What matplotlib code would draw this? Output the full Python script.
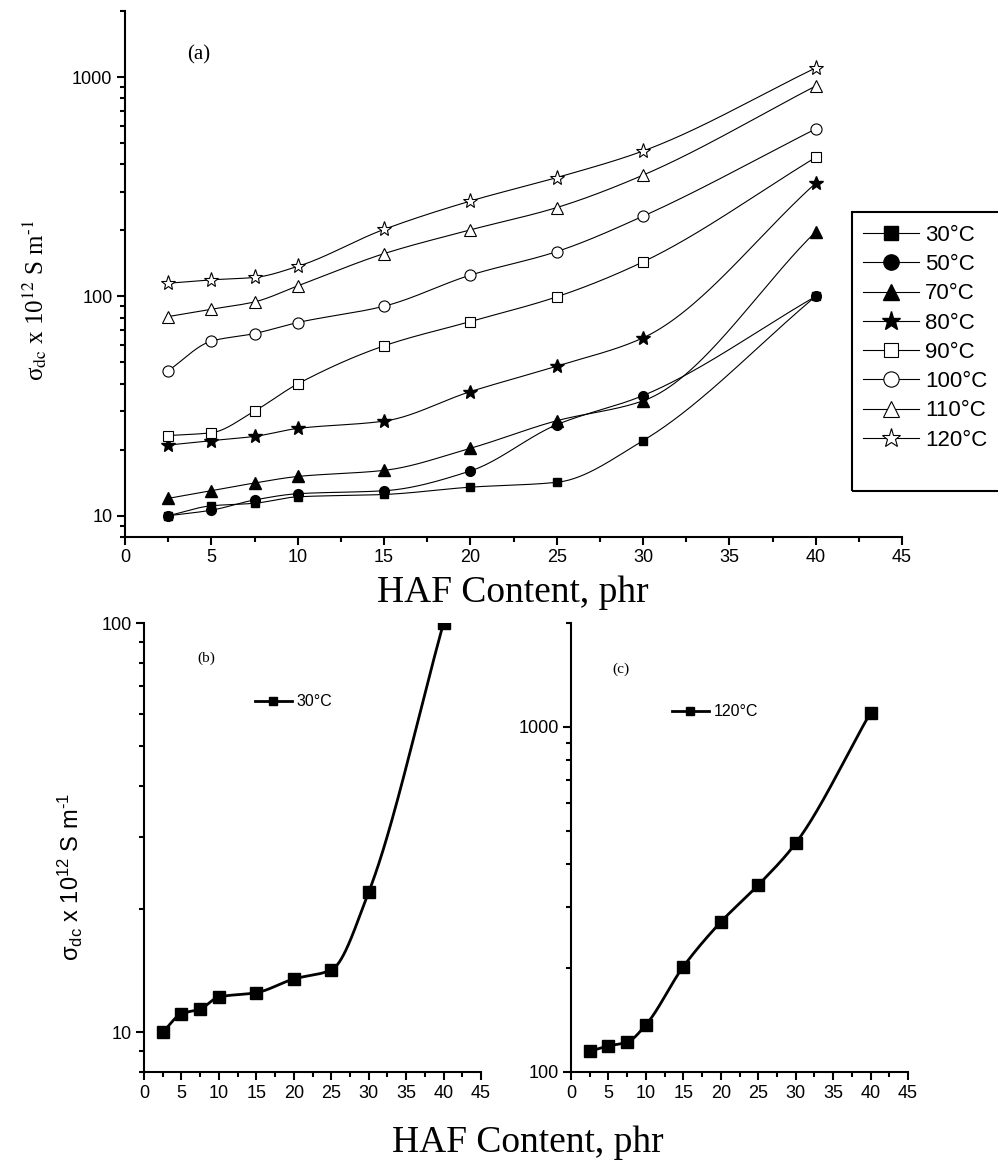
import numpy as np
import matplotlib
matplotlib.use("Agg")
import matplotlib.pyplot as plt
from matplotlib.lines import Line2D
from matplotlib.patches import Rectangle
from matplotlib.ticker import LogLocator, NullFormatter, MultipleLocator

# ---------------- data ----------------
haf = [2.5, 5, 7.5, 10, 15, 20, 25, 30, 40]
temps = ["30°C", "50°C", "70°C", "80°C", "90°C", "100°C", "110°C", "120°C"]
s30 = [10.0, 11.1, 11.4, 12.2, 12.5, 13.5, 14.2, 22.0, 100]
s50 = [10.0, 10.6, 11.8, 12.6, 13.0, 16.0, 26.0, 35.3, 100]
s70 = [12.0, 13.0, 14.1, 15.1, 16.1, 20.3, 27.1, 33.4, 197]
s80 = [21.0, 22.0, 23.0, 25.0, 27.0, 36.8, 48.1, 64.7, 328]
s90 = [23.2, 23.9, 30.0, 39.9, 59.5, 76.8, 99.5, 143.6, 430]
s100 = [45.8, 62.5, 67.7, 76.0, 90.2, 125, 160, 232, 580]
s110 = [80.9, 87.4, 94.4, 111.6, 156.6, 201, 254, 357, 910]
s120 = [114.8, 119, 122, 137, 202, 272, 348, 460, 1100]
series = [s30, s50, s70, s80, s90, s100, s110, s120]

# ---------------- fonts ----------------
plt.rcParams["font.family"] = ["Liberation Sans", "DejaVu Sans"]
plt.rcParams["mathtext.fontset"] = "custom"
plt.rcParams["mathtext.rm"] = "Liberation Sans"
plt.rcParams["mathtext.it"] = "Liberation Sans:italic"
SERIF = ["Liberation Serif", "DejaVu Serif"]


def pchip(x, y, xn):
    x = np.asarray(x, float)
    y = np.asarray(y, float)
    h = np.diff(x)
    d = np.diff(y) / h
    n = len(x)
    m = np.zeros(n)
    for k in range(1, n - 1):
        if d[k - 1] * d[k] <= 0:
            m[k] = 0.0
        else:
            w1 = 2 * h[k] + h[k - 1]
            w2 = h[k] + 2 * h[k - 1]
            m[k] = (w1 + w2) / (w1 / d[k - 1] + w2 / d[k])
    m[0] = d[0]
    m[-1] = d[-1]
    idx = np.clip(np.searchsorted(x, xn) - 1, 0, n - 2)
    t = (xn - x[idx]) / h[idx]
    h00 = 2 * t**3 - 3 * t**2 + 1
    h10 = t**3 - 2 * t**2 + t
    h01 = -2 * t**3 + 3 * t**2
    h11 = t**3 - t**2
    return h00 * y[idx] + h10 * h[idx] * m[idx] + h01 * y[idx + 1] + h11 * h[idx] * m[idx + 1]


def smooth(x, y):
    xn = np.linspace(x[0], x[-1], 400)
    yn = 10 ** pchip(x, np.log10(y), xn)
    return xn, yn


W, H = 998, 1160
fig = plt.figure(figsize=(W / 100, H / 100), dpi=100)


def fx(px):
    return px / W


def fy(py):
    return 1 - py / H


def style_axes(ax, ymin, ymax, lw=1.5):
    ax.set_yscale("log")
    ax.set_xlim(0, 45)
    ax.set_ylim(ymin, ymax)
    for s in ("top", "right"):
        ax.spines[s].set_visible(False)
    for s in ("left", "bottom"):
        ax.spines[s].set_linewidth(lw)
    ax.xaxis.set_major_locator(MultipleLocator(5))
    ax.xaxis.set_minor_locator(MultipleLocator(2.5))
    ax.yaxis.set_major_locator(LogLocator(base=10, numticks=10))
    ax.yaxis.set_minor_locator(LogLocator(base=10, subs=np.arange(2, 10), numticks=20))
    ax.yaxis.set_minor_formatter(NullFormatter())
    ax.yaxis.set_major_formatter(matplotlib.ticker.FuncFormatter(lambda v, p: f"{v:g}"))
    ax.tick_params(which="major", direction="out", length=6, width=lw, labelsize=13, pad=3)
    ax.tick_params(which="minor", direction="out", length=3.5, width=lw)
    ax.patch.set_alpha(0)


# ---------------- panel (a) ----------------
axa = fig.add_axes([fx(125), fy(537), fx(902) - fx(125), fy(11) - fy(537)])
style_axes(axa, 8, 2000)

mk = [
    dict(marker="s", ms=6, mfc="black", mec="black"),
    dict(marker="o", ms=7, mfc="black", mec="black"),
    dict(marker="^", ms=8, mfc="black", mec="black"),
    dict(marker="*", ms=10, mfc="black", mec="black"),
    dict(marker="s", ms=7, mfc="white", mec="black", mew=0.8),
    dict(marker="o", ms=8, mfc="white", mec="black", mew=0.8),
    dict(marker="^", ms=9, mfc="white", mec="black", mew=0.8),
    dict(marker="*", ms=11, mfc="white", mec="black", mew=0.8),
]
for vals, m in zip(series, mk):
    xs, ys = smooth(haf, vals)
    axa.plot(xs, ys, color="black", lw=0.8, zorder=2)
    axa.plot(haf, vals, ls="none", zorder=3, **m)

fig.text(fx(35), fy(300), "σ$_{\\mathrm{dc}}$ x 10$^{12}$ S m$^{\\mathrm{\u2010}1}$", rotation=90,
         ha="center", va="center", fontsize=18, family=SERIF, math_fontfamily="stix")
fig.text(fx(513), fy(602), "HAF Content, phr", ha="center", va="baseline",
         fontsize=27, family=SERIF)
fig.text(fx(199), fy(55), "(a)", ha="center", va="center", fontsize=15, family=SERIF)

# legend of panel (a)
lmk = [
    dict(marker="s", ms=10, mfc="black", mec="black"),
    dict(marker="o", ms=11, mfc="black", mec="black"),
    dict(marker="^", ms=12, mfc="black", mec="black"),
    dict(marker="*", ms=14, mfc="black", mec="black"),
    dict(marker="s", ms=10, mfc="white", mec="black", mew=0.8),
    dict(marker="o", ms=11, mfc="white", mec="black", mew=0.8),
    dict(marker="^", ms=12, mfc="white", mec="black", mew=0.8),
    dict(marker="*", ms=14, mfc="white", mec="black", mew=0.8),
]
handles = [Line2D([0], [0], color="black", lw=0.8, **m) for m in lmk]
fig.legend(handles, temps, loc="upper left", bbox_to_anchor=(fx(863), fy(225)),
           bbox_transform=fig.transFigure, frameon=False, fontsize=16,
           handlelength=2.5, handletextpad=0.3, labelspacing=0.37,
           borderpad=0, borderaxespad=0)
fig.add_artist(Rectangle((fx(852), fy(491)), fx(1010) - fx(852), fy(212) - fy(491),
                         transform=fig.transFigure, fill=False, lw=1.5, ec="black"))

# ---------------- panel (b) ----------------
axb = fig.add_axes([fx(144), fy(1072), fx(481) - fx(144), fy(623) - fy(1072)])
style_axes(axb, 8, 100)
xs, ys = smooth(haf, s30)
axb.plot(xs, ys, color="black", lw=2.0, zorder=2)
axb.plot(haf, s30, ls="none", marker="s", ms=8, mfc="black", mec="black", zorder=3)
hb = Line2D([0], [0], color="black", lw=2.0, marker="s", ms=6)
fig.legend([hb], [temps[0]], loc="center left", bbox_to_anchor=(fx(255), fy(702)),
           bbox_transform=fig.transFigure, frameon=False, fontsize=11.5,
           handlelength=2.3, handletextpad=0.3, borderpad=0, borderaxespad=0)
fig.text(fx(206), fy(658), "(b)", ha="center", va="center", fontsize=11, family=SERIF)
fig.text(fx(70), fy(877), "σ$_{\\mathrm{dc}}$ x 10$^{12}$ S m$^{\\mathrm{\u2010}1}$", rotation=90,
         ha="center", va="center", fontsize=17)

# ---------------- panel (c) ----------------
axc = fig.add_axes([fx(571), fy(1072), fx(908) - fx(571), fy(623) - fy(1072)])
style_axes(axc, 100, 2000)
xs, ys = smooth(haf, s120)
axc.plot(xs, ys, color="black", lw=2.0, zorder=2)
axc.plot(haf, s120, ls="none", marker="s", ms=8, mfc="black", mec="black", zorder=3)
hc = Line2D([0], [0], color="black", lw=2.0, marker="s", ms=6)
fig.legend([hc], [temps[-1]], loc="center left", bbox_to_anchor=(fx(672), fy(712)),
           bbox_transform=fig.transFigure, frameon=False, fontsize=11.5,
           handlelength=2.3, handletextpad=0.3, borderpad=0, borderaxespad=0)
fig.text(fx(621), fy(669), "(c)", ha="center", va="center", fontsize=11, family=SERIF)

fig.text(fx(528), fy(1152), "HAF Content, phr", ha="center", va="baseline",
         fontsize=27, family=SERIF)

fig.savefig("out.png", dpi=100)
